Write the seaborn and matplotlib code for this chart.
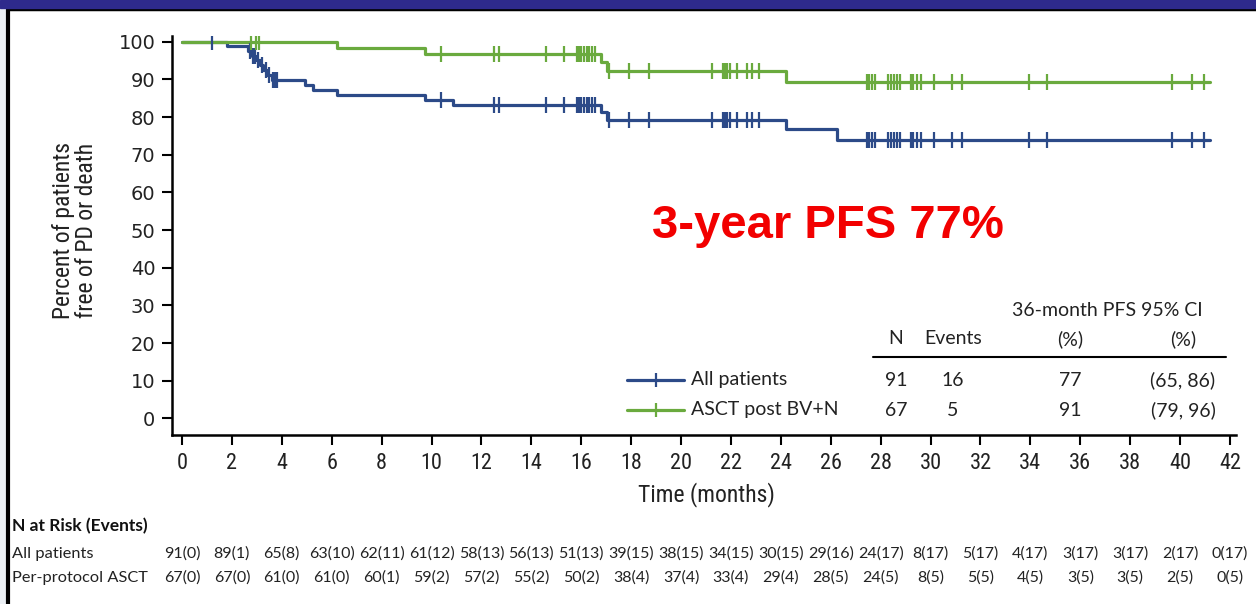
import numpy as np
import pandas as pd
import matplotlib
matplotlib.use("Agg")
import matplotlib.pyplot as plt
from matplotlib.lines import Line2D
from matplotlib.patches import Rectangle
from matplotlib import font_manager as fm
import seaborn as sns

# ---------------- data ----------------
months_ticks = list(range(0, 43, 2))

all_event_t = [0.0, 1.79, 2.66, 2.79, 2.97, 3.13, 3.26, 3.42, 3.60, 4.93, 5.24, 6.20, 9.74, 10.88,
               16.78, 17.03, 24.20, 26.24, 41.20]
all_surv = [100.0, 98.9, 97.6, 96.3, 95.0, 93.7, 92.4, 91.1, 89.9, 88.5, 87.2, 85.9, 84.6, 83.1,
            81.2, 79.3, 76.8, 74.0, 74.0]
all_censor_t = [1.19, 2.72, 2.86, 2.92, 3.05, 3.20, 3.35, 3.50, 3.66, 3.72, 3.80,
                10.40, 12.52, 12.70, 14.60, 15.30, 15.82, 15.91, 16.00, 16.12, 16.22, 16.31, 16.42, 16.55,
                17.10, 17.93, 18.72, 21.23, 21.70, 21.78, 21.86, 21.96, 22.23, 22.63, 22.83, 23.12,
                27.44, 27.55, 27.67, 27.78, 28.30, 28.42, 28.54, 28.66, 28.78, 29.20, 29.30, 29.45, 29.60,
                30.15, 30.85, 31.25, 33.95, 34.66, 39.67, 40.47, 40.96]

asct_event_t = [0.0, 6.20, 9.74, 16.78, 17.03, 24.20, 41.20]
asct_surv = [100.0, 98.3, 96.6, 94.5, 92.3, 89.2, 89.2]
asct_censor_t = [2.77, 2.97, 3.10,
                 10.40, 12.52, 12.70, 14.60, 15.30, 15.82, 15.91, 16.00, 16.12, 16.22, 16.31, 16.42, 16.55,
                 17.10, 17.93, 18.72, 21.23, 21.70, 21.78, 21.86, 21.96, 22.23, 22.63, 22.83, 23.12,
                 27.44, 27.55, 27.67, 27.78, 28.30, 28.42, 28.54, 28.66, 28.78, 29.20, 29.30, 29.45, 29.60,
                 30.15, 30.85, 31.25, 33.95, 34.66, 39.67, 40.47, 40.96]

series_names = ["All patients", "ASCT post BV+N"]
table_N = ["91", "67"]
table_events = ["16", "5"]
table_pfs = ["77", "91"]
table_ci = ["(65, 86)", "(79, 96)"]

risk_all = ["91(0)", "89(1)", "65(8)", "63(10)", "62(11)", "61(12)", "58(13)", "56(13)", "51(13)", "39(15)",
            "38(15)", "34(15)", "30(15)", "29(16)", "24(17)", "8(17)", "5(17)", "4(17)", "3(17)", "3(17)",
            "2(17)", "0(17)"]
risk_asct = ["67(0)", "67(0)", "61(0)", "61(0)", "60(1)", "59(2)", "57(2)", "55(2)", "50(2)", "38(4)",
             "37(4)", "33(4)", "29(4)", "28(5)", "24(5)", "8(5)", "5(5)", "4(5)", "3(5)", "3(5)", "2(5)", "0(5)"]
risk_row_names = ["All patients", "Per-protocol ASCT"]

BLUE = "#2C4A88"
GREEN = "#6AAA3E"

# ---------------- style ----------------
sns.set_theme(style="white")
names = {f.name for f in fm.fontManager.ttflist}
cond = None
for cand in ["Roboto Condensed", "Open Sans Condensed", "Liberation Sans Narrow", "DejaVu Sans Condensed"]:
    if cand in names:
        cond = cand
        break
if cond is None:
    cond = "DejaVu Sans"
body = "Lato" if "Lato" in names else "DejaVu Sans"
plt.rcParams["font.family"] = [body, "DejaVu Sans"]

W, H = 1256, 604
fig = plt.figure(figsize=(W / 100, H / 100), dpi=100)
fig.patch.set_facecolor("white")


def fx(px):
    return px / W


def fy(py):
    return 1 - py / H


ax = fig.add_axes([fx(172), fy(435), (1236 - 172) / W, (435 - 36) / H])
ax.set_facecolor("none")


def surv_at(times, surv, q):
    idx = np.searchsorted(np.asarray(times), np.asarray(q), side="right") - 1
    return np.asarray(surv)[idx]


df_all = pd.DataFrame({"t": all_event_t, "s": all_surv})
df_asct = pd.DataFrame({"t": asct_event_t, "s": asct_surv})

sns.lineplot(data=df_all, x="t", y="s", drawstyle="steps-post", color=BLUE, linewidth=2.3, ax=ax,
             estimator=None, sort=False, zorder=3)
sns.lineplot(data=df_asct, x="t", y="s", drawstyle="steps-post", color=GREEN, linewidth=2.3, ax=ax,
             estimator=None, sort=False, zorder=4)

cen_all = pd.DataFrame({"t": all_censor_t, "s": surv_at(all_event_t, all_surv, all_censor_t)})
cen_asct = pd.DataFrame({"t": asct_censor_t, "s": surv_at(asct_event_t, asct_surv, asct_censor_t)})
sns.scatterplot(data=cen_all, x="t", y="s", marker="|", s=120, color=BLUE, linewidth=1.6, ax=ax, zorder=5)
sns.scatterplot(data=cen_asct, x="t", y="s", marker="|", s=120, color=GREEN, linewidth=1.6, ax=ax, zorder=6)

ax.set_xlim(-0.4, 42.24)
ax.set_ylim(-4.4, 101.5)
ax.set_xticks(months_ticks)
ax.set_yticks(range(0, 101, 10))
ax.set_xlabel("")
ax.set_ylabel("")
for side in ["top", "right"]:
    ax.spines[side].set_visible(False)
for side in ["left", "bottom"]:
    ax.spines[side].set_color("black")
    ax.spines[side].set_linewidth(1.8)
ax.tick_params(axis="both", which="major", direction="out", length=7, width=1.5, color="black",
               left=True, bottom=True)
ax.tick_params(axis="y", labelsize=14, pad=5, labelcolor="#222222")
ax.tick_params(axis="x", labelsize=16, pad=6, labelcolor="#222222")
for lab in ax.get_xticklabels():
    lab.set_fontfamily([cond, "DejaVu Sans"])
    if cond == "DejaVu Sans":
        lab.set_fontstretch("condensed")
for lab in ax.get_yticklabels():
    lab.set_fontfamily(["DejaVu Sans"])

# axis titles
fig.text(fx(706), fy(495), "Time (months)", ha="center", va="center", fontsize=17,
         family=[cond, "DejaVu Sans"], color="#222222")
fig.text(fx(75), fy(230), "Percent of patients\nfree of PD or death", ha="center", va="center",
         rotation=90, fontsize=17, family=[cond, "DejaVu Sans"], color="#222222", linespacing=1.05)

# big annotation
fig.text(fx(652), fy(226), "3-year PFS 77%", ha="left", va="center", fontsize=34, fontweight="bold",
         color="#F20000", family=["Liberation Sans", "DejaVu Sans"])

# legend + summary table
tcol = "#222222"
fs = 14
fig.text(fx(1107), fy(311), "36-month PFS 95% CI", ha="center", va="center", fontsize=fs, color=tcol)
hdr_y = 339
fig.text(fx(896), fy(hdr_y), "N", ha="center", va="center", fontsize=fs, color=tcol)
fig.text(fx(953), fy(hdr_y), "Events", ha="center", va="center", fontsize=fs, color=tcol)
fig.text(fx(1070), fy(hdr_y), "(%)", ha="center", va="center", fontsize=fs, color=tcol)
fig.text(fx(1183), fy(hdr_y), "(%)", ha="center", va="center", fontsize=fs, color=tcol)
fig.add_artist(Line2D([fx(873), fx(1226)], [fy(357), fy(357)], transform=fig.transFigure,
                      color="black", linewidth=1.5))
row_y = [380, 410]
colors = [BLUE, GREEN]
for i in range(2):
    yy = fy(row_y[i])
    fig.add_artist(Line2D([fx(627), fx(656), fx(684)], [yy, yy, yy], transform=fig.transFigure,
                          color=colors[i], linewidth=2.3, marker="|", markersize=10, markevery=[1],
                          markeredgewidth=1.6))
    fig.text(fx(691), yy, series_names[i], ha="left", va="center", fontsize=fs, color=tcol)
    fig.text(fx(896), yy, table_N[i], ha="center", va="center", fontsize=fs, color=tcol)
    fig.text(fx(953), yy, table_events[i], ha="center", va="center", fontsize=fs, color=tcol)
    fig.text(fx(1070), yy, table_pfs[i], ha="center", va="center", fontsize=fs, color=tcol)
    fig.text(fx(1183), yy, table_ci[i], ha="center", va="center", fontsize=fs, color=tcol)

# risk table
fig.text(fx(12), fy(526), "N at Risk (Events)", ha="left", va="center", fontsize=12.5,
         fontweight="bold", color="#111111")
blend = matplotlib.transforms.blended_transform_factory(ax.transData, fig.transFigure)
for r, (name, vals) in enumerate(zip(risk_row_names, [risk_all, risk_asct])):
    yy = fy([554, 578][r])
    fig.text(fx(12), yy, name, ha="left", va="center", fontsize=11.8, color="#222222")
    for t, v in zip(months_ticks, vals):
        ax.text(t, yy, v, transform=blend, ha="center", va="center", fontsize=11.5, color="#222222",
                clip_on=False)

# frame
fig.add_artist(Rectangle((0, fy(8)), 1, 8 / H, transform=fig.transFigure, color="#2E2A8C", zorder=10))
fig.add_artist(Line2D([fx(8), 1], [fy(9), fy(9)], transform=fig.transFigure, color="black", linewidth=2.5))
fig.add_artist(Line2D([fx(8), fx(8)], [fy(9), 0], transform=fig.transFigure, color="black", linewidth=3))
fig.add_artist(Rectangle((0, 0), fx(6.5), 1, transform=fig.transFigure, color="#ECF0F5", zorder=0))

fig.savefig("out.png", dpi=100)
